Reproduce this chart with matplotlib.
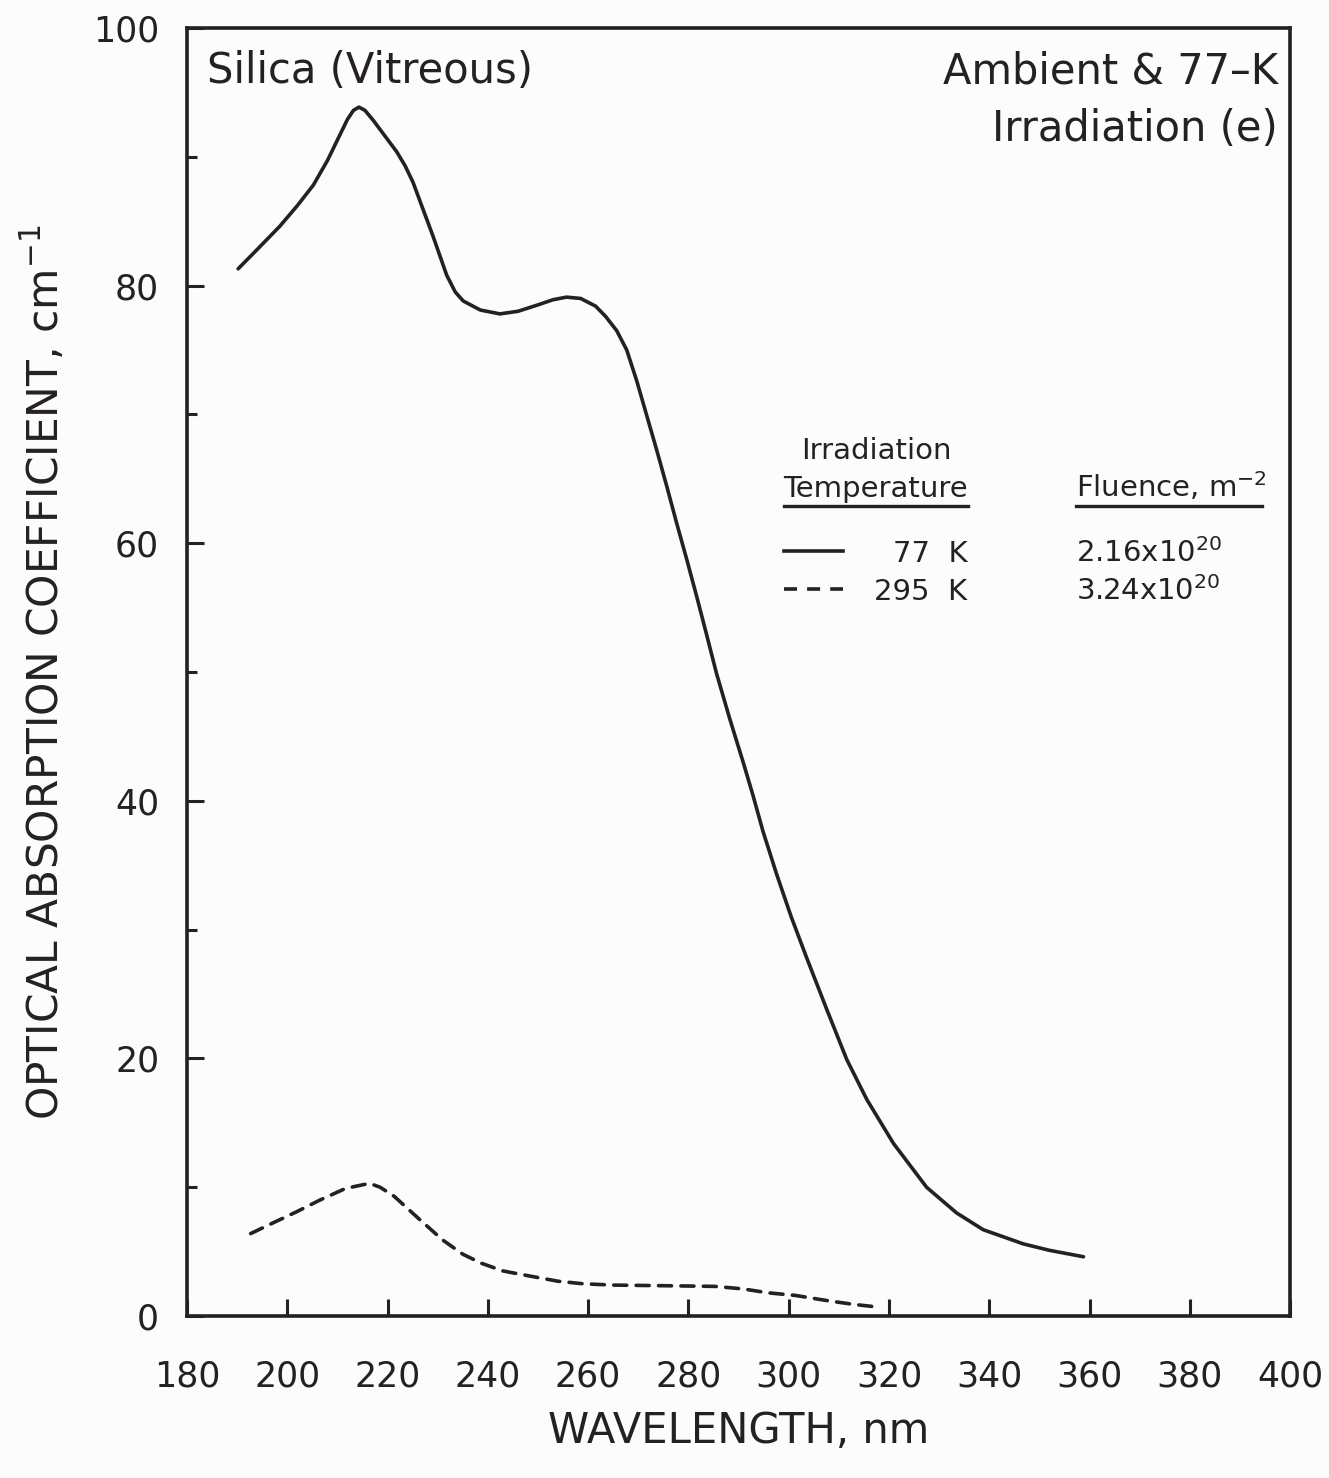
import matplotlib.pyplot as plt
import numpy as np

# wavelength (nm) and absorption coefficient (cm^-1) for the two irradiation temperatures
wl_77k = [190.2, 194.0, 198.5, 202.0, 205.2, 208.0, 210.5, 212.0, 213.2, 214.3,
          215.5, 217.2, 219.5, 221.8, 223.5, 225.1, 227.0, 229.1, 231.8, 233.5,
          235.1, 238.5, 242.4, 246.0, 250.0, 253.0, 255.7, 258.5, 261.5, 263.5,
          265.7, 267.7, 269.7, 271.7, 273.7, 275.7, 277.7, 279.7, 281.7, 283.5,
          285.6, 288.3, 291.0, 292.9, 294.9, 297.6, 300.5, 303.6, 307.6, 311.6,
          315.6, 320.9, 327.5, 333.5, 338.8, 346.8, 352.0, 358.8]
abs_77k = [81.3, 82.8, 84.6, 86.2, 87.8, 89.7, 91.7, 92.9, 93.6, 93.85,
           93.6, 92.8, 91.6, 90.4, 89.3, 88.0, 86.0, 83.8, 80.8, 79.5,
           78.8, 78.1, 77.8, 78.0, 78.5, 78.9, 79.1, 79.0, 78.4, 77.6,
           76.5, 75.0, 72.6, 69.9, 67.2, 64.4, 61.5, 58.7, 55.8, 53.1,
           49.9, 46.3, 42.9, 40.4, 37.6, 34.3, 31.0, 27.8, 23.8, 19.9,
           16.8, 13.4, 10.0, 8.0, 6.7, 5.6, 5.1, 4.6]

wl_295k = [192.7, 197.0, 201.9, 206.5, 211.6, 216.4, 218.5, 221.3, 226.1, 231.0,
           235.0, 238.7, 243.0, 248.4, 254.0, 259.1, 265.0, 275.6, 285.3, 291.0,
           295.9, 301.3, 307.6, 313.0, 317.7]
abs_295k = [6.4, 7.2, 8.1, 9.0, 9.9, 10.3, 10.0, 9.3, 7.6, 5.9,
            4.8, 4.1, 3.5, 3.1, 2.7, 2.5, 2.4, 2.35, 2.3, 2.1,
            1.8, 1.6, 1.2, 0.9, 0.7]

x_ticks = [180, 200, 220, 240, 260, 280, 300, 320, 340, 360, 380, 400]
y_ticks = [0, 20, 40, 60, 80, 100]

temps = ['77  K', '295  K']
fluences = ['2.16x10$^{20}$', '3.24x10$^{20}$']

ink = '#252022'
paper = '#fcfcfc'
plt.rcParams['font.family'] = ['DejaVu Sans']

fig = plt.figure(figsize=(13.29, 14.78), dpi=100, facecolor=paper)
ax = fig.add_axes([0.1407, 0.1096, 0.8300, 0.8715], facecolor=paper)

ax.plot(wl_77k, abs_77k, color=ink, lw=2.6, solid_capstyle='round', solid_joinstyle='round')
ax.plot(wl_295k, abs_295k, color=ink, lw=2.6, dashes=(3.6, 2.6), dash_capstyle='round')

ax.set_xlim(180, 400)
ax.set_ylim(0, 100)
ax.set_xticks(x_ticks)
ax.set_yticks(y_ticks)
ax.set_yticks(np.arange(10, 100, 20), minor=True)

ax.tick_params(axis='both', which='major', direction='in', length=12.5, width=2.2,
               color=ink, labelcolor=ink, labelsize=25)
ax.tick_params(axis='y', which='minor', direction='in', length=7.5, width=2.2, color=ink)
ax.tick_params(axis='x', pad=31)
ax.tick_params(axis='y', pad=20)
for s in ax.spines.values():
    s.set_linewidth(2.6)
    s.set_color(ink)

ax.set_xlabel('WAVELENGTH, nm', fontsize=30, color=ink)
ax.xaxis.set_label_coords(0.5, -0.0730)
ax.set_ylabel('OPTICAL ABSORPTION COEFFICIENT, cm$^{-1}$', fontsize=30.5, color=ink)
ax.yaxis.set_label_coords(-0.108, 0.50)

# corner titles
ax.text(184.0, 95.7, 'Silica (Vitreous)', fontsize=30, color=ink, ha='left', va='baseline')
ax.text(397.6, 95.7, 'Ambient & 77\u2013K', fontsize=30, color=ink, ha='right', va='baseline')
ax.text(397.6, 91.2, 'Irradiation (e)', fontsize=30, color=ink, ha='right', va='baseline')

# legend table: headers, underlines, line samples, then one row per temperature
fs = 21
ax.text(317.4, 66.5, 'Irradiation', fontsize=fs, color=ink, ha='center', va='baseline')
ax.text(317.4, 63.6, 'Temperature', fontsize=fs, color=ink, ha='center', va='baseline')
ax.plot([299.1, 335.8], [62.9, 62.9], color=ink, lw=2.4)
ax.text(357.3, 63.6, 'Fluence, m$^{-2}$', fontsize=fs, color=ink, ha='left', va='baseline')
ax.plot([357.3, 394.4], [62.9, 62.9], color=ink, lw=2.4)

ax.plot([299.1, 310.9], [59.4, 59.4], color=ink, lw=2.6)
ax.plot([299.1, 310.9], [56.45, 56.45], color=ink, lw=2.6, dashes=(3.6, 2.8))
for i, (t, f) in enumerate(zip(temps, fluences)):
    base = 58.5 - 2.95 * i
    ax.text(335.6, base, t, fontsize=fs, color=ink, ha='right', va='baseline')
    ax.text(357.3, base, f, fontsize=fs, color=ink, ha='left', va='baseline')

fig.savefig('out.png', dpi=100, facecolor=fig.get_facecolor())
